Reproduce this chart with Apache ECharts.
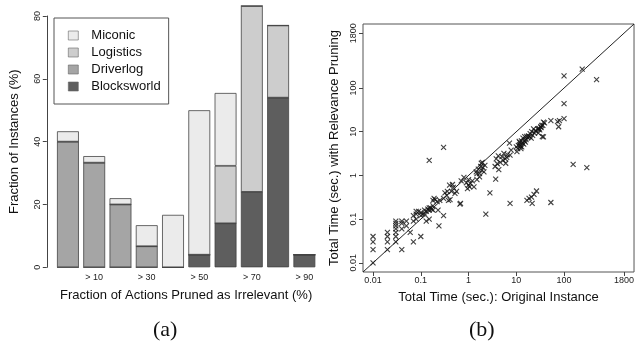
<!DOCTYPE html>
<html>
<head>
<meta charset="utf-8">
<script src="https://cdn.jsdelivr.net/npm/echarts@6/dist/echarts.min.js"></script>
<style>
  html, body { margin: 0; padding: 0; background: #fff; }
  #chart { width: 637px; height: 344px; }
</style>
</head>
<body>
<div id="chart"></div>
<script>
// (a) fraction of instances per pruning bin, stacked by domain
const barCategories = ['', '> 10', '', '> 30', '', '> 50', '', '> 70', '', '> 90'];
const blocksworld = [0, 0, 0, 0, 0, 4, 14, 24, 54, 4];
const driverlog = [40, 33.3, 20, 6.7, 0, 0, 0, 0, 0, 0];
const logistics = [0, 0, 0, 0, 0, 0, 18.3, 59.2, 23, 0];
const miconic = [3.3, 2.1, 2, 6.7, 16.7, 46, 23.2, 0, 0, 0];
const barTicks = [0, 20, 40, 60, 80];

// (b) total time: original instance vs. with relevance pruning
const timeTicks = [0.01, 0.1, 1, 10, 100, 1800];
const timePairs = [
  [0.01, 0.04], [0.01, 0.03], [0.01, 0.02], [0.01, 0.01],
  [0.02, 0.05], [0.02, 0.04], [0.02, 0.03], [0.02, 0.02],
  [0.03, 0.09], [0.03, 0.08], [0.03, 0.07], [0.03, 0.06], [0.03, 0.05], [0.03, 0.04], [0.03, 0.03],
  [0.04, 0.09], [0.04, 0.08], [0.04, 0.06], [0.04, 0.02],
  [0.05, 0.09], [0.05, 0.07], [0.06, 0.05], [0.07, 0.03], [0.1, 0.04],
  [0.07, 0.09], [0.07, 0.12], [0.08, 0.13], [0.08, 0.1], [0.08, 0.15], [0.09, 0.15],
  [0.1, 0.12], [0.1, 0.14], [0.11, 0.13], [0.12, 0.16], [0.12, 0.13], [0.13, 0.15],
  [0.14, 0.17], [0.15, 0.18], [0.15, 0.16], [0.16, 0.18], [0.17, 0.17], [0.18, 0.2],
  [0.13, 0.09], [0.15, 0.1], [0.19, 0.3], [0.15, 2.2], [0.3, 4.4],
  [0.18, 0.27], [0.2, 0.28], [0.22, 0.25], [0.25, 0.27], [0.23, 0.16], [0.18, 0.16],
  [0.3, 0.12], [0.24, 0.07], [0.32, 0.4], [0.36, 0.43], [0.38, 0.27], [0.41, 0.28],
  [0.4, 0.6], [0.44, 0.43], [0.48, 0.53], [0.52, 0.39], [0.56, 0.43], [0.46, 0.62],
  [0.66, 0.22], [0.35, 0.35], [0.3, 0.3], [0.7, 0.75], [0.8, 0.9],
  [0.9, 0.68], [1.0, 0.6], [1.05, 0.55], [1.1, 0.65], [1.2, 0.75], [1.0, 0.8], [0.95, 0.5],
  [1.3, 0.55], [1.45, 1.2], [1.5, 1.1], [1.6, 1.4], [1.7, 1.1], [1.8, 1.6], [1.9, 1.3],
  [1.85, 1.9], [1.95, 2.0], [2.1, 1.2], [1.7, 0.93], [1.5, 0.8], [2.0, 1.5], [2.2, 1.7],
  [2.3, 0.13], [2.8, 0.4], [3.7, 0.82], [0.68, 0.23],
  [3.6, 1.6], [4.0, 1.85], [4.3, 1.35], [4.6, 2.0], [5.3, 2.2], [5.9, 2.4], [6.3, 2.6],
  [7.4, 2.9], [7.8, 3.8], [7.2, 5.5], [6.5, 3.0], [5.0, 2.7], [3.8, 2.4], [4.2, 2.8],
  [5.5, 3.2], [6.0, 1.9],
  [10.7, 4.1], [11, 4.9], [11.8, 5.6], [12.8, 6.2], [13.8, 7.1], [15, 7.7], [16, 6.6],
  [13, 4.5], [14.3, 5.2], [15.5, 5.8], [12.5, 4.1], [17.5, 7.3], [10.3, 3.5], [12, 5],
  [13.5, 5.5], [14.8, 6.2], [11.5, 6], [16.5, 7.8], [12.2, 4.6], [10, 4.5],
  [18, 8], [19, 7.7], [19.5, 9], [20.5, 7.1], [21, 10], [22, 8.3], [23, 11.6], [24, 9.3],
  [25, 10.5], [26, 10.5], [28, 11.5], [29, 11.6], [29, 9.3], [30, 12], [31, 11],
  [32.6, 13], [33, 12.5], [34, 14], [36, 14], [37, 16.5], [39, 16], [35, 7.7], [37, 7.6],
  [53, 18], [73, 17], [80, 18], [100, 20], [77, 13], [100, 44], [100, 190], [240, 270], [480, 155],
  [16.7, 0.27], [18.5, 0.3], [20.8, 0.32], [23.5, 0.37], [26.5, 0.44], [21.5, 0.23],
  [53, 0.24], [7.4, 0.23], [155, 1.8], [300, 1.5]
];
// R pads a log axis range by 4% of the decades on each side
const logMin = Math.pow(10, -2 - 0.04 * Math.log10(180000));
const logMax = Math.pow(10, Math.log10(1800) + 0.04 * Math.log10(180000));

const sans = 'Liberation Sans';
const axisGrey = '#444';

const chart = echarts.init(document.getElementById('chart'));

function barSeries(name, data, color) {
  return {
    name: name,
    type: 'bar',
    stack: 'all',
    xAxisIndex: 0,
    yAxisIndex: 0,
    clip: false,
    barCategoryGap: '16.7%',
    data: data,
    itemStyle: { color: color, borderColor: '#444', borderWidth: 0.8 },
    emphasis: { disabled: true }
  };
}

const option = {
  animation: false,
  textStyle: { fontFamily: sans },
  legend: {
    left: 54, top: 18,
    orient: 'vertical',
    data: ['Miconic', 'Logistics', 'Driverlog', 'Blocksworld'],
    icon: 'rect',
    itemWidth: 10, itemHeight: 9,
    itemGap: 4,
    padding: [11, 8, 11, 14],
    borderColor: '#555', borderWidth: 1,
    itemStyle: { borderColor: '#666', borderWidth: 0.6 },
    textStyle: { fontSize: 13, color: '#111', padding: [0, 0, 0, 8] },
    selectedMode: false
  },
  grid: [
    { left: 54.8, top: 16, width: 262.7, height: 251.3 },
    { left: 363, top: 24, width: 276, height: 248, show: true, borderColor: '#555', borderWidth: 1 }
  ],
  xAxis: [
    {
      gridIndex: 0, type: 'category', data: barCategories,
      axisLine: { show: false }, axisTick: { show: false },
      axisLabel: { interval: 0, fontSize: 9, color: '#222', margin: 6 },
      name: 'Fraction of Actions Pruned as Irrelevant (%)',
      nameLocation: 'middle', nameGap: 22,
      nameTextStyle: { fontSize: 13, color: '#111' }
    },
    {
      gridIndex: 1, type: 'log', min: logMin, max: logMax,
      axisLine: { show: false },
      splitLine: { show: false },
      axisTick: { customValues: timeTicks, length: 4, lineStyle: { color: axisGrey } },
      axisLabel: { customValues: timeTicks, fontSize: 9, color: '#222', margin: 4,
        formatter: v => String(timeTicks.find(t => Math.abs(t - v) / t < 1e-6) ?? v) },
      name: 'Total Time (sec.): Original Instance',
      nameLocation: 'middle', nameGap: 19,
      nameTextStyle: { fontSize: 13, color: '#111' }
    }
  ],
  yAxis: [
    {
      gridIndex: 0, type: 'value', min: 0, max: 80, interval: 20, offset: 8,
      axisLine: { show: true, lineStyle: { color: axisGrey } },
      axisTick: { show: true, length: 4, lineStyle: { color: axisGrey } },
      splitLine: { show: false },
      axisLabel: { rotate: 90, fontSize: 9, color: '#222', margin: 5,
        formatter: v => barTicks.includes(v) ? String(v) : '' },
      name: 'Fraction of Instances (%)',
      nameLocation: 'middle', nameGap: 26,
      nameTextStyle: { fontSize: 13, color: '#111' }
    },
    {
      gridIndex: 1, type: 'log', min: logMin, max: logMax,
      axisLine: { show: false },
      splitLine: { show: false },
      axisTick: { customValues: timeTicks, length: 4, lineStyle: { color: axisGrey } },
      axisLabel: { customValues: timeTicks, rotate: 90, fontSize: 9, color: '#222', margin: 5,
        formatter: v => String(timeTicks.find(t => Math.abs(t - v) / t < 1e-6) ?? v) },
      name: 'Total Time (sec.) with Relevance Pruning',
      nameLocation: 'middle', nameGap: 22,
      nameTextStyle: { fontSize: 13, color: '#111' }
    }
  ],
  series: [
    barSeries('Blocksworld', blocksworld, '#5e5e5e'),
    barSeries('Driverlog', driverlog, '#a5a5a5'),
    barSeries('Logistics', logistics, '#cdcdcd'),
    barSeries('Miconic', miconic, '#ebebeb'),
    {
      type: 'line',
      xAxisIndex: 1, yAxisIndex: 1,
      data: [[logMin, logMin], [logMax, logMax]],
      symbol: 'none',
      lineStyle: { color: '#222', width: 1 },
      emphasis: { disabled: true }
    },
    {
      type: 'scatter',
      xAxisIndex: 1, yAxisIndex: 1,
      data: timePairs,
      symbol: 'path://M0,0L10,10M10,0L0,10',
      symbolSize: 5,
      itemStyle: { color: 'none', borderColor: '#111', borderWidth: 1.1 },
      emphasis: { disabled: true }
    }
  ],
  graphic: [
    { type: 'text', left: 153, top: 319,
      style: { text: '(a)', font: '22px "Liberation Serif"', fill: '#111' } },
    { type: 'text', left: 469, top: 319,
      style: { text: '(b)', font: '22px "Liberation Serif"', fill: '#111' } }
  ]
};

chart.setOption(option);
</script>
</body>
</html>
